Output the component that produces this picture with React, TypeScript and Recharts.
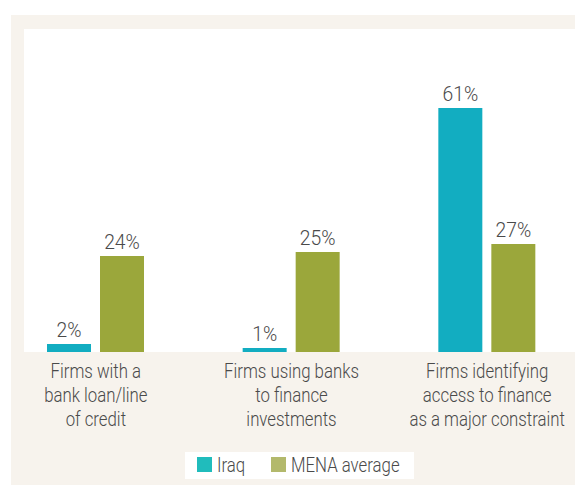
import React from "react";
import { BarChart, Bar, XAxis, YAxis, LabelList, Legend } from "recharts";

const categories = [
  "Firms with a bank loan/line of credit",
  "Firms using banks to finance investments",
  "Firms identifying access to finance as a major constraint",
];
const categoryLines = [
  ["Firms with a", "bank loan/line", "of credit"],
  ["Firms using banks", "to finance", "investments"],
  ["Firms identifying", "access to finance", "as a major constraint"],
];
const iraq = [2, 1, 61];
const mena = [24, 25, 27];
const seriesNames = ["Iraq", "MENA average"];

const FONT = '"Roboto", "Liberation Sans", sans-serif';
const TEXT = "#4a4a4a";
const IRAQ_COLOR = "#12adc1";
const MENA_COLOR = "#9ba73b";
const IRAQ_LEGEND = "#20bcbc";
const MENA_LEGEND = "#b3b96c";
const FS = 21;
const SX = 0.8;

const data = categories.map((c, i) => ({ name: c, iraq: iraq[i], mena: mena[i] }));

const Tick = (props: any) => {
  const { x, index } = props;
  const lines = categoryLines[index] || [];
  return (
    <g transform={`translate(${x},0) scale(${SX},1)`}>
      <text x={0} y={0} textAnchor="middle" fill={TEXT} fontFamily={FONT} fontSize={FS} fontWeight={300}>
        {lines.map((l, i) => (
          <tspan key={i} x={0} y={378 + i * 24}>
            {l}
          </tspan>
        ))}
      </text>
    </g>
  );
};

const ValueLabel = (props: any) => {
  const { x, y, width, value } = props;
  const cx = Number(x) + Number(width) / 2;
  return (
    <g transform={`translate(${cx},${Number(y) - 7}) scale(0.92,1)`}>
      <text x={0} y={0} textAnchor="middle" fill={TEXT} fontFamily={FONT} fontSize={FS} fontWeight={300}>
        {`${value}%`}
      </text>
    </g>
  );
};

const LegendContent = () => (
  <svg width={229} height={27} style={{ display: "block" }}>
    <rect x={0} y={0} width={229} height={27} fill="#ffffff" />
    <rect x={12} y={5} width={15} height={15} fill={IRAQ_LEGEND} />
    <g transform={`translate(32,20) scale(${SX},1)`}>
      <text x={0} y={0} fill={TEXT} fontFamily={FONT} fontSize={FS} fontWeight={300}>
        {seriesNames[0]}
      </text>
    </g>
    <rect x={86} y={5} width={15} height={15} fill={MENA_LEGEND} />
    <g transform={`translate(106,20) scale(${SX},1)`}>
      <text x={0} y={0} fill={TEXT} fontFamily={FONT} fontSize={FS} fontWeight={300}>
        {seriesNames[1]}
      </text>
    </g>
  </svg>
);

export default function App() {
  return (
    <div style={{ position: "fixed", left: 0, top: 0, width: 575, height: 485, overflow: "hidden", background: "#ffffff" }}>
      <div style={{ position: "absolute", left: 11, top: 15, width: 564, height: 470, background: "#f7f3ed" }} />
      <div style={{ position: "absolute", left: 24, top: 29, width: 551, height: 323, background: "#ffffff" }} />
      <div style={{ position: "absolute", left: -2, top: 0 }}>
        <BarChart
          width={587}
          height={485}
          data={data}
          margin={{ top: 72, right: 0, left: 0, bottom: 0 }}
          barSize={44}
          barGap={9}
        >
          <XAxis dataKey="name" axisLine={false} tickLine={false} height={106} tick={<Tick />} interval={0} />
          <YAxis hide domain={[0, 70]} />
          <Legend
            layout="vertical"
            align="center"
            verticalAlign="bottom"
            content={<LegendContent />}
            wrapperStyle={{ position: "absolute", left: 187, top: 452, width: 229, height: 27 }}
          />
          <Bar dataKey="iraq" name={seriesNames[0]} fill={IRAQ_COLOR} isAnimationActive={false}>
            <LabelList dataKey="iraq" content={<ValueLabel />} />
          </Bar>
          <Bar dataKey="mena" name={seriesNames[1]} fill={MENA_COLOR} isAnimationActive={false}>
            <LabelList dataKey="mena" content={<ValueLabel />} />
          </Bar>
        </BarChart>
      </div>
    </div>
  );
}
